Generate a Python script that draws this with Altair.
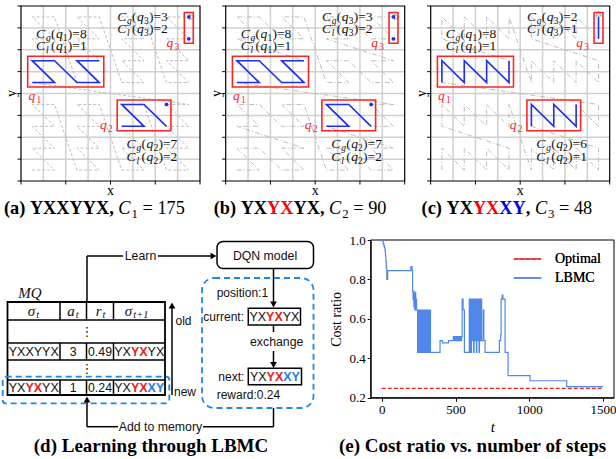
import math
import altair as alt
import pandas as pd

# ============================ DATA ============================
# panels (a)-(c): bit orders of the curves, captions and query costs
ORDERS = ["YXXYYX", "YXYXYX", "YXYXXY"]
ORDER_GROUPS = [["YXXYYX"], ["YX", "YX", "YX"], ["YX", "YX", "XY"]]
ORDER_GROUP_COLORS = [["black"], ["black", "red", "black"], ["black", "red", "blue"]]
PANEL_LETTERS = ["a", "b", "c"]
TOTAL_COSTS = [175, 90, 48]

QUERY_IDS = ["1", "2", "3"]
QUERY_X0 = [0, 4, 7]
QUERY_X1 = [3, 6, 7]
QUERY_Y0 = [4, 2, 6]
QUERY_Y1 = [5, 3, 7]
COST_G = [[8, 7, 3], [8, 7, 3], [8, 6, 2]]
COST_L = [[1, 2, 2], [1, 2, 2], [1, 1, 1]]

BLUE_PATHS = [
    [[(0, 4), (1, 4), (0, 5), (1, 5), (2, 4), (3, 4), (2, 5), (3, 5)],
     [(4, 2), (5, 2), (4, 3), (5, 3), (6, 2)]],
    [[(0, 4), (1, 4), (0, 5), (1, 5), (2, 4), (3, 4), (2, 5), (3, 5)],
     [(4, 2), (5, 2), (4, 3), (5, 3), (6, 2)]],
    [[(0, 4), (0, 5), (1, 4), (1, 5), (2, 4), (2, 5), (3, 4), (3, 5)],
     [(4, 2), (4, 3), (5, 2), (5, 3), (6, 2), (6, 3)],
     [(7, 6), (7, 7)]],
]
BLUE_DOTS = [[(6, 3), (7, 6), (7, 7)], [(6, 3), (7, 6), (7, 7)], []]

# panel (d): memory table contents
HEADER_MAIN = ["σ", "a", "r", "σ"]
HEADER_SUB = ["t", "t", "t", "t+1"]
OLD_STATE = (["YXXYYX"], ["black"])
OLD_ACTION, OLD_REWARD = "3", "0.49"
OLD_NEXT = (["YX", "YX", "YX"], ["black", "red", "black"])
NEW_STATE = (["YX", "YX", "YX"], ["black", "red", "black"])
NEW_ACTION, NEW_REWARD = "1", "0.24"
NEW_NEXT = (["YX", "YX", "XY"], ["black", "red", "blue"])

# panel (e): cost ratio vs. steps
SERIES = ["Optimal", "LBMC"]
OPTIMAL = 0.247
OPT_T = [0, 1500]
LBMC_T = [0, 5, 10, 14, 18, 22, 25, 28, 31, 34, 40,
          197, 206, 209, 212, 215, 218, 221, 224, 227, 230, 233, 236,
          243, 246, 249, 252, 255, 258, 261, 264, 268, 273, 278, 283, 288,
          293, 298, 302, 305, 308, 311, 314, 317, 320, 323, 327, 330,
          395, 412, 452,
          485, 489, 493, 497, 501, 505, 509, 513, 517, 521, 525, 529, 533, 537, 541,
          545, 551, 560,
          593, 596, 600, 604, 608, 611, 614, 617, 620, 623, 626, 629, 632, 635,
          638, 641, 644, 647, 650, 653, 656, 659, 662, 665, 668, 671, 674, 677,
          688, 692, 700,
          797, 806, 809, 816, 821, 836, 856, 1005, 1253, 1499]
LBMC_V = [1.0, 0.995, 0.98, 0.97, 0.96, 0.945, 0.92, 0.89, 0.86, 0.80, 0.845,
          0.865, 0.845, 0.74, 0.70, 0.74, 0.66, 0.72, 0.645, 0.735, 0.645, 0.70, 0.645,
          0.43, 0.645, 0.43, 0.645, 0.43, 0.645, 0.43, 0.645, 0.43, 0.645, 0.43, 0.645, 0.43,
          0.645, 0.43, 0.645, 0.43, 0.645, 0.43, 0.645, 0.43, 0.645, 0.43, 0.645, 0.43,
          0.49, 0.478, 0.49,
          0.51, 0.49, 0.51, 0.49, 0.51, 0.49, 0.51, 0.49, 0.51, 0.49, 0.51, 0.49, 0.51, 0.49, 0.51,
          0.70, 0.645, 0.43,
          0.70, 0.43, 0.70, 0.43, 0.70, 0.49, 0.70, 0.49, 0.70, 0.43, 0.70, 0.49, 0.70, 0.49,
          0.70, 0.43, 0.70, 0.49, 0.70, 0.49, 0.70, 0.43, 0.70, 0.49, 0.70, 0.49, 0.70, 0.49,
          0.645, 0.49, 0.43,
          0.49, 0.52, 0.70, 0.72, 0.70, 0.43, 0.312, 0.286, 0.256, 0.256]
E_XTICKS = [0, 500, 1000, 1500]
E_YTICKS = [0.2, 0.4, 0.6, 0.8, 1.0]

# ============================ STYLE / LAYOUT ============================
W, H = 616, 459
SERIF = "Liberation Serif, DejaVu Serif"
SANS = "Liberation Sans, DejaVu Sans"
RED = "#ff2424"
BLUE = "#1f2ff0"
DASH_BLUE = "#1e88e5"
TITLE_COLORS = {"black": "#000000", "red": "#ff0000", "blue": "#0000ee"}
TABLE_COLORS = {"black": "#111111", "red": "#ee2020", "blue": "#1e7ee8"}
LBMC_BLUE = "#4f88ea"
OPT_RED = "#ff1a1a"

PANEL_LEFT = [21.0, 225.7, 430.7]
PANEL_W = 179.0
PANEL_TOP, PANEL_BOT = 6.0, 181.0
CURVE_DASH = [[3, 2], [5, 2, 1, 2], [5, 2, 1, 2]]
ANN_SIZE = 13.5
ANN_SUB = 9.5
ANN_U = [0.67, 4.72, 4.30]
ANN_V = [(6.55, 5.98), (1.50, 0.93), (7.33, 6.76)]
ANN_OFFS = [0.0, 9.9, 14.9, 19.9, 26.8, 31.8]   # px offsets of C, sub, "(", q, digit, ")=n"
QLAB_U = [0.33, 3.53, 6.50]
QLAB_V = [3.70, 2.38, 6.14]
X_TICKS = [0, 2, 4, 6, 8]
Y_TICKS = list(range(0, 9))

CAPTION_X = [4.0, 213.7, 421.6]
CAPTION_Y = 214.0
CAPTION_SIZE = 18.3
BOTTOM_CAPTION_Y = 452.0
BOTTOM_CAPTION_SIZE = 19

E_XDOM = [-75, 1574]
E_LEFT, E_RIGHT, E_TOP, E_BOT = 370.7, 614.0, 240.0, 397.7

BOLD_W = {"(": 333, ")": 333, "a": 500, "b": 556, "c": 444, " ": 250, "Y": 722, "X": 722, ",": 250}


def sc(dom, rng):
    return alt.Scale(domain=dom, range=rng, nice=False, zero=False)


def qx(f, s):
    return alt.X(f"{f}:Q", scale=s, axis=None)


def qy(f, s):
    return alt.Y(f"{f}:Q", scale=s, axis=None)


COLOR_ID = alt.Color("c:N", scale=None)


def text_layer(rows, sx, sy, **mk):
    df = pd.DataFrame(rows)
    return alt.Chart(df).mark_text(**mk).encode(
        x=qx("x", sx), y=qy("y", sy), text="t:N", color=COLOR_ID)


def zcurve(order):
    pts = []
    for idx in range(2 ** len(order)):
        x = y = bx = by = 0
        for k, ch in enumerate(reversed(order)):
            bit = (idx >> k) & 1
            if ch == "X":
                x |= bit << bx
                bx += 1
            else:
                y |= bit << by
                by += 1
        pts.append((x, y))
    return pts


def top_panel(k):
    n = 8
    sx = sc([0, n], [PANEL_LEFT[k], PANEL_LEFT[k] + PANEL_W])
    sy = sc([0, n], [PANEL_BOT, PANEL_TOP])
    ux = PANEL_W / n
    out = []
    grid = pd.DataFrame({"p": list(range(1, n)), "lo": [0] * (n - 1), "hi": [n] * (n - 1)})
    out.append(alt.Chart(grid).mark_rule(color="#d0d0d0", strokeWidth=1.5).encode(
        x=qx("p", sx), y=qy("lo", sy), y2="hi"))
    out.append(alt.Chart(grid).mark_rule(color="#d0d0d0", strokeWidth=1.5).encode(
        y=qy("p", sy), x=qx("lo", sx), x2="hi"))
    pts = zcurve(ORDERS[k])
    curve = pd.DataFrame({"i": list(range(len(pts))),
                          "cx": [p[0] + 0.5 for p in pts],
                          "cy": [p[1] + 0.5 for p in pts]})
    out.append(alt.Chart(curve).mark_line(color="#bdbdbd", strokeWidth=1,
                                          strokeDash=CURVE_DASH[k]).encode(
        x=qx("cx", sx), y=qy("cy", sy), order="i:Q"))
    (xa, ya), (xb, yb) = pts[-2], pts[-1]
    dx, dy = xb - xa, yb - ya
    nrm = math.hypot(dx, dy)
    ang = math.degrees(math.atan2(dx, dy)) % 360
    arrow = pd.DataFrame({"cx": [xb + 0.5 + 0.15 * dx / nrm], "cy": [yb + 0.5 + 0.15 * dy / nrm]})
    out.append(alt.Chart(arrow).mark_point(shape="triangle-up", angle=ang, size=30, filled=False,
                                           color="#9a9a9a", strokeWidth=1, opacity=1).encode(
        x=qx("cx", sx), y=qy("cy", sy)))
    rq = pd.DataFrame({"x0": [a + 0.3 for a in QUERY_X0], "x1": [b + 0.7 for b in QUERY_X1],
                       "y0": [a + 0.3 for a in QUERY_Y0], "y1": [b + 0.7 for b in QUERY_Y1]})
    out.append(alt.Chart(rq).mark_rect(filled=False, stroke=RED, strokeWidth=1.6).encode(
        x=qx("x0", sx), x2="x1", y=qy("y0", sy), y2="y1"))
    rows = []
    for pid, path in enumerate(BLUE_PATHS[k]):
        for s, (cx, cy) in enumerate(path):
            rows.append({"pid": pid, "s": s, "cx": cx + 0.5, "cy": cy + 0.5})
    out.append(alt.Chart(pd.DataFrame(rows)).mark_line(color=BLUE, strokeWidth=1.6).encode(
        x=qx("cx", sx), y=qy("cy", sy), detail="pid:N", order="s:Q"))
    if BLUE_DOTS[k]:
        dots = pd.DataFrame({"cx": [d[0] + 0.5 for d in BLUE_DOTS[k]],
                             "cy": [d[1] + 0.5 for d in BLUE_DOTS[k]]})
        out.append(alt.Chart(dots).mark_circle(color=BLUE, size=14, opacity=1).encode(
            x=qx("cx", sx), y=qy("cy", sy)))
    fr = pd.DataFrame({"a": [0], "b": [n]})
    out.append(alt.Chart(fr).mark_rect(filled=False, stroke="black", strokeWidth=1.2).encode(
        x=qx("a", sx), x2="b", y=qy("a", sy), y2="b"))
    xt = pd.DataFrame({"p": X_TICKS, "z": [0] * len(X_TICKS)})
    out.append(alt.Chart(xt).mark_rule(color="black", strokeWidth=1, y2Offset=3.5).encode(
        x=qx("p", sx), y=qy("z", sy), y2="z"))
    yt = pd.DataFrame({"p": Y_TICKS, "z": [0] * len(Y_TICKS)})
    out.append(alt.Chart(yt).mark_rule(color="black", strokeWidth=1, x2Offset=-3.5).encode(
        y=qy("p", sy), x=qx("z", sx), x2="z"))
    out.append(text_layer([{"x": n / 2, "y": 0, "t": "x", "c": "black"}], sx, sy,
                          align="center", baseline="alphabetic", dy=13.5, font=SERIF, fontSize=14))
    out.append(text_layer([{"x": 0, "y": n / 2, "t": "y", "c": "black"}], sx, sy,
                          align="center", baseline="middle", angle=270, xOffset=-9,
                          font=SERIF, fontSize=14))
    it14, it10, up14, up10 = [], [], [], []
    o = ANN_OFFS
    for j in range(3):
        u0 = ANN_U[j]
        for letter, cost, vv in [("g", COST_G[k][j], ANN_V[j][0]), ("l", COST_L[k][j], ANN_V[j][1])]:
            it14.append({"x": u0 + o[0] / ux, "y": vv, "t": "C", "c": "#111"})
            it10.append({"x": u0 + o[1] / ux, "y": vv, "t": letter, "c": "#111"})
            up14.append({"x": u0 + o[2] / ux, "y": vv, "t": "(", "c": "#111"})
            it14.append({"x": u0 + o[3] / ux, "y": vv, "t": "q", "c": "#111"})
            up10.append({"x": u0 + o[4] / ux, "y": vv, "t": QUERY_IDS[j], "c": "#111"})
            up14.append({"x": u0 + o[5] / ux, "y": vv, "t": f")={cost}", "c": "#111"})
        it14.append({"x": QLAB_U[j], "y": QLAB_V[j], "t": "q", "c": RED})
        up10.append({"x": QLAB_U[j] + 8.0 / ux, "y": QLAB_V[j], "t": QUERY_IDS[j], "c": RED})
    common = dict(align="left", baseline="alphabetic", font=SERIF)
    out.append(text_layer(it14, sx, sy, fontSize=ANN_SIZE, fontStyle="italic", **common))
    out.append(text_layer(it10, sx, sy, fontSize=ANN_SUB, fontStyle="italic", dy=3.2, **common))
    out.append(text_layer(up14, sx, sy, fontSize=ANN_SIZE, **common))
    out.append(text_layer(up10, sx, sy, fontSize=ANN_SUB, dy=3.2, **common))
    return out


PX = sc([0, W], [0, W])
PY = sc([0, H], [0, H])


def captions():
    out = []
    bold, ital, sub, reg = [], [], [], []
    s = CAPTION_SIZE
    for k in range(3):
        x = CAPTION_X[k]
        head = f"({PANEL_LETTERS[k]})"
        bold.append({"x": x, "y": CAPTION_Y, "t": head, "c": TITLE_COLORS["black"]})
        x += sum(BOLD_W[ch] for ch in head + " ") * s / 1000
        groups = list(zip(ORDER_GROUPS[k], ORDER_GROUP_COLORS[k])) + [(",", "black")]
        for txt, col in groups:
            bold.append({"x": x, "y": CAPTION_Y, "t": txt, "c": TITLE_COLORS[col]})
            x += sum(BOLD_W[ch] for ch in txt) * s / 1000
        x += 250 * s / 1000
        ital.append({"x": x, "y": CAPTION_Y, "t": "C", "c": "#000"})
        x += 667 * s / 1000 + 1.0
        sub.append({"x": x, "y": CAPTION_Y, "t": str(k + 1), "c": "#000"})
        x += 500 * 0.7 * s / 1000 + 250 * s / 1000
        reg.append({"x": x, "y": CAPTION_Y, "t": f"= {TOTAL_COSTS[k]}", "c": "#000"})
    common = dict(align="left", baseline="alphabetic", font=SERIF)
    out.append(text_layer(bold, PX, PY, fontSize=s, fontWeight="bold", **common))
    out.append(text_layer(ital, PX, PY, fontSize=s, fontStyle="italic", **common))
    out.append(text_layer(sub, PX, PY, fontSize=round(0.7 * s, 1), dy=4, **common))
    out.append(text_layer(reg, PX, PY, fontSize=s, **common))
    bottom = [{"x": 151.0, "y": BOTTOM_CAPTION_Y, "t": "(d) Learning through LBMC", "c": "#000"},
              {"x": 472.5, "y": BOTTOM_CAPTION_Y, "t": "(e) Cost ratio vs. number of steps", "c": "#000"}]
    out.append(text_layer(bottom, PX, PY, fontSize=BOTTOM_CAPTION_SIZE, fontWeight="bold",
                          align="center", baseline="alphabetic", font=SERIF))
    return out


def diagram():
    out = []
    L, R = 7.5, 165.0
    rows_y = [302.0, 320.0, 343.0, 360.0, 380.0, 395.0]
    cols_x = [60.0, 86.5, 113.5]
    col_c = [(L + 60) / 2, (60 + 86.5) / 2, (86.5 + 113.5) / 2, (113.5 + R) / 2]
    segs = []
    for yv in rows_y[1:-1]:
        segs.append((L, yv, R, yv))
    for ya, yb in [(rows_y[0], rows_y[1]), (rows_y[2], rows_y[3]), (rows_y[4], rows_y[5])]:
        for cx in cols_x:
            segs.append((cx, ya, cx, yb))
    conn = [(87, 302, 87, 256), (87, 256, 123, 256), (158, 256, 211, 256),
            (273.5, 268.5, 273.5, 303), (273.5, 325, 273.5, 332), (273.5, 351, 273.5, 364),
            (273.5, 408, 273.5, 426.7), (273.5, 426.7, 203, 426.7), (118, 426.7, 87, 426.7),
            (87, 426.7, 87, 400), (172, 395, 172, 306)]
    seg_df = pd.DataFrame(segs + conn, columns=["x", "y", "x2", "y2"])
    out.append(alt.Chart(seg_df).mark_rule(color="black", strokeWidth=1.5).encode(
        x=qx("x", PX), y=qy("y", PY), x2="x2", y2="y2"))
    boxes = pd.DataFrame([(L, 302, R, 395)], columns=["x", "y", "x2", "y2"])
    out.append(alt.Chart(boxes).mark_rect(filled=False, stroke="black", strokeWidth=1.8).encode(
        x=qx("x", PX), y=qy("y", PY), x2="x2", y2="y2"))
    sboxes = pd.DataFrame([(248.3, 308.3, 300.5, 325), (248.3, 368.3, 301.5, 384.7)],
                          columns=["x", "y", "x2", "y2"])
    out.append(alt.Chart(sboxes).mark_rect(filled=False, stroke="black", strokeWidth=1.5).encode(
        x=qx("x", PX), y=qy("y", PY), x2="x2", y2="y2"))
    dqn = pd.DataFrame([(217, 241.5, 313.5, 268.5)], columns=["x", "y", "x2", "y2"])
    out.append(alt.Chart(dqn).mark_rect(filled=False, stroke="black", strokeWidth=1.5,
                                        cornerRadius=6).encode(
        x=qx("x", PX), y=qy("y", PY), x2="x2", y2="y2"))
    hl = pd.DataFrame([(2.7, 376.7, 169.3, 403.3)], columns=["x", "y", "x2", "y2"])
    out.append(alt.Chart(hl).mark_rect(filled=False, stroke=DASH_BLUE, strokeWidth=1.8,
                                       strokeDash=[6, 4], cornerRadius=3).encode(
        x=qx("x", PX), y=qy("y", PY), x2="x2", y2="y2"))
    big = pd.DataFrame([(202, 278, 313.5, 408)], columns=["x", "y", "x2", "y2"])
    out.append(alt.Chart(big).mark_rect(filled=False, stroke=DASH_BLUE, strokeWidth=1.8,
                                        strokeDash=[6, 4], cornerRadius=12).encode(
        x=qx("x", PX), y=qy("y", PY), x2="x2", y2="y2"))
    heads = pd.DataFrame([(213.5, 256, "triangle-right"), (273.5, 304.5, "triangle-down"),
                          (273.5, 365, "triangle-down"), (87, 399.5, "triangle-up"),
                          (172, 305.5, "triangle-up")], columns=["x", "y", "shape"])
    out.append(alt.Chart(heads).mark_point(filled=True, color="black", size=45, opacity=1).encode(
        x=qx("x", PX), y=qy("y", PY), shape=alt.Shape("shape:N", scale=None)))
    left_lab = [("position:1", 216.7, 293), ("current:", 203.3, 316.5), ("next:", 218.3, 376.5),
                ("reward:0.24", 216.7, 394.5), ("old", 175.5, 321), ("new", 174, 392)]
    out.append(text_layer([{"x": x, "y": y, "t": t, "c": "#111"} for t, x, y in left_lab], PX, PY,
                          align="left", baseline="middle", font=SANS, fontSize=12))
    cy_old, cy_new, cy_head = (rows_y[2] + rows_y[3]) / 2, (rows_y[4] + rows_y[5]) / 2, (rows_y[0] + rows_y[1]) / 2
    center_lab = [("Learn", 140.5, 256), ("DQN model", 265, 255.5), ("exchange", 276.7, 342),
                  ("Add to memory", 160.5, 427), (OLD_ACTION, col_c[1], cy_old),
                  (OLD_REWARD, col_c[2], cy_old), (NEW_ACTION, col_c[1], cy_new),
                  (NEW_REWARD, col_c[2], cy_new)]
    out.append(text_layer([{"x": x, "y": y, "t": t, "c": "#111"} for t, x, y in center_lab], PX, PY,
                          align="center", baseline="middle", font=SANS, fontSize=12.3))
    out.append(text_layer([{"x": 87, "y": 331.5, "t": "⋮", "c": "#111"},
                           {"x": 87, "y": 368.5, "t": "⋮", "c": "#111"}], PX, PY,
                          align="center", baseline="middle", font=SANS, fontSize=13))
    normal, bold = [], []
    cw = 0.667 * 12.5

    def state(groups, colors, cx, cy):
        total = sum(len(g) for g in groups)
        x = cx - total * cw / 2
        for g, col in zip(groups, colors):
            row = {"x": x + len(g) * cw / 2, "y": cy, "t": g, "c": TABLE_COLORS[col]}
            (normal if col == "black" else bold).append(row)
            x += len(g) * cw

    state(*OLD_STATE, col_c[0], cy_old)
    state(*OLD_NEXT, col_c[3], cy_old)
    state(*NEW_STATE, col_c[0], cy_new)
    state(*NEW_NEXT, col_c[3], cy_new)
    state(*OLD_NEXT, 274.4, 316.7)
    state(*NEW_NEXT, 274.9, 376.5)
    out.append(text_layer(normal, PX, PY, align="center", baseline="middle", font=SANS, fontSize=12.5))
    out.append(text_layer(bold, PX, PY, align="center", baseline="middle", font=SANS,
                          fontSize=12.5, fontWeight="bold"))
    mains = [{"x": 18.3, "y": 293, "t": "MQ", "c": "#111"}]
    out.append(text_layer(mains, PX, PY, align="left", baseline="middle", font=SERIF,
                          fontSize=15, fontStyle="italic"))
    hm, hs = [], []
    for i in range(4):
        anchor = col_c[i] + (1.5 if len(HEADER_SUB[i]) == 1 else -7)
        hm.append({"x": anchor, "y": cy_head, "t": HEADER_MAIN[i], "c": "#111"})
        hs.append({"x": anchor + 1.0, "y": cy_head, "t": HEADER_SUB[i], "c": "#111"})
    out.append(text_layer(hm, PX, PY, align="right", baseline="middle", font=SERIF,
                          fontSize=15, fontStyle="italic"))
    out.append(text_layer(hs, PX, PY, align="left", baseline="middle", font=SERIF,
                          fontSize=10.5, fontStyle="italic", dy=4))
    return out


def cost_panel():
    ex = sc(E_XDOM, [E_LEFT, E_RIGHT])
    ey = sc([0.2, 1.0], [E_BOT, E_TOP])
    df = pd.DataFrame({"t": LBMC_T + OPT_T,
                       "v": LBMC_V + [OPTIMAL] * len(OPT_T),
                       "s": ["LBMC"] * len(LBMC_T) + ["Optimal"] * len(OPT_T)})
    leg = alt.Legend(title=None, orient="none", legendX=516, legendY=247.5,
                     symbolType="M-1.3,0H1.3", symbolSize=441, symbolStrokeWidth=1.5,
                     labelFont=SERIF, labelFontSize=14, labelColor="black", labelOffset=16,
                     rowPadding=0, padding=0)
    line = alt.Chart(df).mark_line(interpolate="step-after", strokeWidth=1.2).encode(
        x=alt.X("t:Q", scale=ex, axis=alt.Axis(
            values=E_XTICKS, format="d", orient="bottom", offset=E_BOT - H, title="t",
            titleFont=SERIF, titleFontStyle="italic", titleFontSize=15, titleFontWeight="normal",
            titleColor="black", titlePadding=3, labelFont=SERIF, labelFontSize=13,
            labelColor="black", tickColor="black", domainColor="black", tickSize=3.5,
            labelPadding=2, grid=False, labelFlush=False, labelOverlap=False)),
        y=alt.Y("v:Q", scale=ey, axis=alt.Axis(
            values=E_YTICKS, format=".1f", orient="left", offset=-E_LEFT, title="Cost ratio",
            titleFont=SERIF, titleFontSize=14, titleFontWeight="normal", titleColor="black",
            titlePadding=5, labelFont=SERIF, labelFontSize=13, labelColor="black",
            tickColor="black", domainColor="black", tickSize=3.5, labelPadding=2,
            grid=False, labelFlush=False, labelOverlap=False)),
        color=alt.Color("s:N", scale=alt.Scale(domain=SERIES, range=[OPT_RED, LBMC_BLUE]), legend=leg),
        strokeDash=alt.StrokeDash("s:N", scale=alt.Scale(domain=SERIES, range=[[4, 2], [1, 0]]),
                                  legend=leg),
    )
    fr = pd.DataFrame({"a": [E_XDOM[0]], "b": [E_XDOM[1]], "c0": [0.2], "c1": [1.0]})
    frame = alt.Chart(fr).mark_rect(filled=False, stroke="black", strokeWidth=1).encode(
        x=qx("a", ex), x2="b", y=qy("c0", ey), y2="c1")
    return [frame, line]


layers = []
for k in range(3):
    layers += top_panel(k)
layers += captions()
layers += diagram()
layers += cost_panel()

chart = alt.layer(*layers).resolve_scale(
    x="independent", y="independent", color="independent", shape="independent"
).properties(width=W, height=H, padding=0, autosize="none", background="white"
).configure_view(stroke=None)

chart.save("out.html", embed_options={"renderer": "svg", "actions": False})
